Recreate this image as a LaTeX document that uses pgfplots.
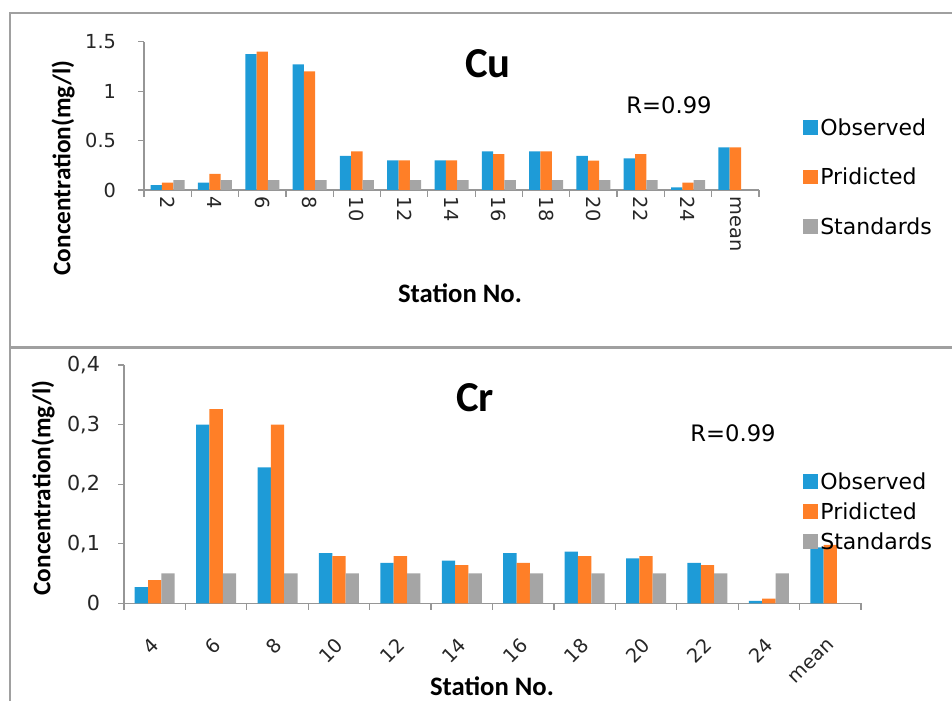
\documentclass[border=0pt]{standalone}
\usepackage{fontspec}
\setmainfont{DejaVu Sans}
\newfontfamily\calfont{Carlito}
\usepackage{pgfplots}
\pgfplotsset{compat=1.18}
\definecolor{obs}{RGB}{30,155,215}
\definecolor{pred}{RGB}{255,127,39}
\definecolor{std}{RGB}{165,165,165}
\definecolor{axgray}{RGB}{150,150,150}
\definecolor{frame}{RGB}{160,160,160}
\pgfplotsset{
  sq/.style={legend image code/.code={\fill[##1] (0pt,-5pt) rectangle (11pt,6pt);}},
  base/.style={
    scale only axis,
    axis lines*=left,
    axis line style={draw=axgray, line width=0.9pt},
    ymin=0,
    xmin=-0.5,
    ybar=0pt,
    tick align=outside,
    tick style={draw=axgray, line width=0.9pt},
    major tick length=4.5pt,
    minor tick length=5pt,
    major x tick style={draw=none},
    /pgf/number format/assume math mode=true,
    ticklabel style={font=\fontsize{14.5}{16}\selectfont, text=black!85},
    legend style={draw=none, fill=none, font=\fontsize{16.5}{18}\selectfont,
      legend cell align=left, inner sep=0pt},
    every axis plot/.append style={draw=none, sq},
  }
}
\begin{document}
\begin{tikzpicture}
\useasboundingbox (0,0) rectangle (714pt,525.75pt);
% panel frames
\draw[frame, line width=1.5pt] (7.5pt,0) -- (7.5pt,516pt) -- (714pt,516pt);
\draw[frame, line width=2.2pt] (7.5pt,265pt) -- (714pt,265pt);

% ---------- Cu ----------
\begin{axis}[base,
  at={(108pt,383.25pt)}, anchor=south west,
  width=461.25pt, height=111.2pt,
  xmax=12.5, ymax=1.5,
  bar width=8.5pt,
  xtick={0,...,12},
  xticklabels={2,4,6,8,10,12,14,16,18,20,22,24,mean},
  minor xtick={-0.5,0.5,...,12.5},
  xticklabel style={rotate=-90, anchor=west, yshift=0pt, xshift=-3pt},
  ytick={0,0.5,1,1.5},
  yticklabels={0,0.5,1,1.5},
  yticklabel style={xshift=-13pt},
  legend style={at={(1.071,0.50)}, anchor=north west,
    /tikz/every even column/.append style={column sep=10pt},
    row sep=19pt},
]
\addplot[fill=obs] coordinates {(0,0.05) (1,0.074) (2,1.375) (3,1.27) (4,0.344) (5,0.30) (6,0.30) (7,0.39) (8,0.39) (9,0.344) (10,0.32) (11,0.027) (12,0.43)};
\addplot[fill=pred] coordinates {(0,0.074) (1,0.162) (2,1.40) (3,1.20) (4,0.39) (5,0.30) (6,0.30) (7,0.364) (8,0.39) (9,0.297) (10,0.364) (11,0.074) (12,0.43)};
\addplot[fill=std] coordinates {(0,0.1) (1,0.1) (2,0.1) (3,0.1) (4,0.1) (5,0.1) (6,0.1) (7,0.1) (8,0.1) (9,0.1) (10,0.1) (11,0.1)};
\legend{Observed,Pridicted,Standards}
\end{axis}

% ---------- Cr ----------
\begin{axis}[base,
  at={(93pt,73.3pt)}, anchor=south west,
  width=552.75pt, height=178.7pt,
  xmax=11.5, ymax=0.4,
  bar width=10pt,
  xtick={0,...,11},
  xticklabels={4,6,8,10,12,14,16,18,20,22,24,mean},
  minor xtick={-0.5,0.5,...,11.5},
  xticklabel style={xshift=3pt, yshift=-22pt, rotate=45, anchor=east},
  ytick={0,0.1,0.2,0.3,0.4},
  yticklabels={0,{0,1},{0,2},{0,3},{0,4}},
  yticklabel style={font=\fontsize{15.5}{17}\selectfont, xshift=-10pt},
  legend style={at={(0.921,0.56)}, anchor=north west,
    /tikz/every even column/.append style={column sep=10pt},
    row sep=4.5pt},
]
\addplot[fill=obs] coordinates {(0,0.027) (1,0.30) (2,0.228) (3,0.084) (4,0.068) (5,0.0715) (6,0.084) (7,0.0866) (8,0.0755) (9,0.068) (10,0.004) (11,0.094)};
\addplot[fill=pred] coordinates {(0,0.039) (1,0.326) (2,0.30) (3,0.079) (4,0.079) (5,0.064) (6,0.068) (7,0.079) (8,0.079) (9,0.064) (10,0.008) (11,0.098)};
\addplot[fill=std] coordinates {(0,0.05) (1,0.05) (2,0.05) (3,0.05) (4,0.05) (5,0.05) (6,0.05) (7,0.05) (8,0.05) (9,0.05) (10,0.05)};
\legend{Observed,Pridicted,Standards}
\end{axis}

% ---------- labels ----------
\node[rotate=90, font=\calfont\bfseries\fontsize{19}{21}\selectfont] at (47.25pt,399.75pt) {Concentration(mg/l)};
\node[font=\calfont\bfseries\fontsize{20}{22}\selectfont] at (345pt,306pt) {Station No.};
\node[font=\calfont\bfseries\fontsize{32}{34}\selectfont] at (366pt,477.75pt) {Cu};
\node[font=\fontsize{17}{19}\selectfont] at (501.75pt,447pt) {R=0.99};

\node[rotate=90, font=\calfont\bfseries\fontsize{19}{21}\selectfont] at (32.25pt,159.75pt) {Concentration(mg/l)};
\node[font=\calfont\bfseries\fontsize{20}{22}\selectfont] at (369pt,11pt) {Station No.};
\node[font=\calfont\bfseries\fontsize{32}{34}\selectfont] at (356.25pt,227.25pt) {Cr};
\node[font=\fontsize{17}{19}\selectfont] at (549.75pt,201pt) {R=0.99};
\end{tikzpicture}
\end{document}
